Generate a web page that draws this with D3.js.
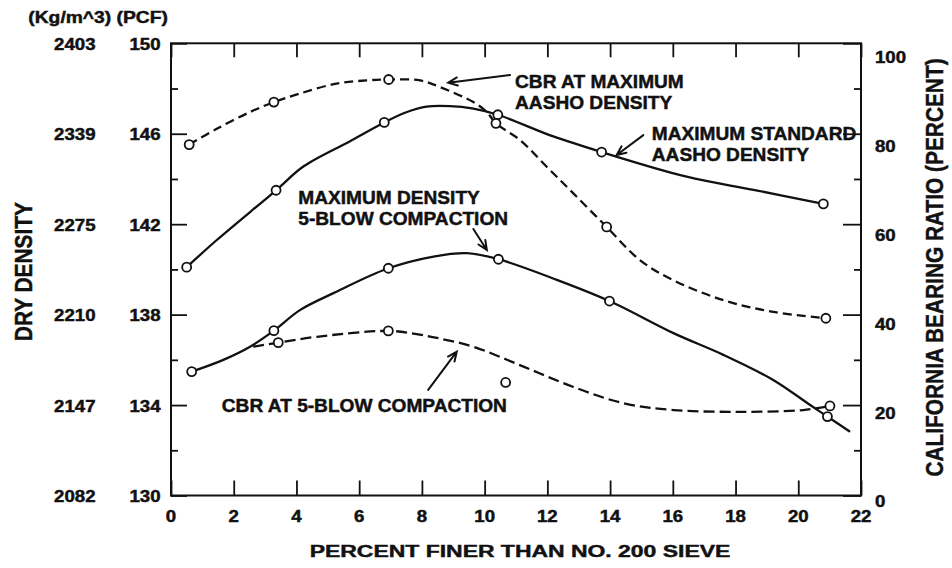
<!DOCTYPE html>
<html>
<head>
<meta charset="utf-8">
<script src="https://cdn.jsdelivr.net/npm/d3@7"></script>
<style>
  html, body { margin: 0; padding: 0; background: #fff; }
  svg { display: block; }
  text {
    font-family: "Liberation Sans", Arial, Helvetica, sans-serif;
    font-weight: bold; fill: #111;
    stroke: #111; stroke-width: 0.45px; paint-order: stroke;
  }
</style>
</head>
<body>
<svg id="chart" width="952" height="568"></svg>
<script>
// ---- Axis ticks and labels ----
const xTicks = [0, 2, 4, 6, 8, 10, 12, 14, 16, 18, 20, 22];
const pcfMajor = [130, 134, 138, 142, 146, 150];
const pcfMinor = [132, 136, 140, 144, 148];
const kgLabels = ["2082", "2147", "2210", "2275", "2339", "2403"];
const cbrMajor = [0, 20, 40, 60, 80, 100];
const cbrMinor = [10, 30, 50, 70, 90];

// ---- Maximum standard AASHO density (PCF) ----
const stdPointX = [0.5, 3.35, 6.8, 10.42, 13.73, 20.8];
const stdPointY = [140.1, 143.5, 146.5, 146.84, 145.19, 142.9];
const stdCurveX = [0.5, 1.46, 3.35, 4.22, 5.71, 6.8, 7.5, 8.15, 8.9, 9.6, 10.42, 12.19, 13.73, 16.44, 18.57, 20.8];
const stdCurveY = [140.1, 141.3, 143.5, 144.55, 145.67, 146.5, 146.95, 147.2, 147.22, 147.12, 146.84, 145.88, 145.19, 144.1, 143.52, 142.9];

// ---- CBR at maximum AASHO density (percent) ----
const cbrStdPointX = [0.58, 3.28, 6.94, 10.36, 13.89, 20.88];
const cbrStdPointY = [77.6, 87.0, 92.0, 82.3, 59.4, 39.2];
const cbrStdCurveX = [0.58, 1.46, 2.52, 3.28, 4.11, 5.28, 6.24, 6.94, 7.94, 8.58, 9.64, 10.07, 10.36, 11.13, 11.98, 12.83, 13.89, 14.96, 16.02, 17.61, 19.2, 20.88];
const cbrStdCurveY = [77.6, 81.1, 84.8, 87.0, 88.9, 91.1, 91.8, 92.0, 91.8, 90.3, 87.0, 84.8, 82.3, 78.6, 72.7, 66.8, 59.4, 52.0, 47.6, 43.2, 40.6, 39.2];

// ---- Maximum density, 5-blow compaction (PCF) ----
const blowPointX = [0.66, 3.28, 6.93, 10.44, 13.98, 20.93];
const blowPointY = [135.48, 137.29, 140.05, 140.45, 138.6, 133.49];
const blowCurveX = [0.66, 1.67, 2.52, 3.28, 4.11, 5.18, 6.93, 8.37, 9.43, 10.44, 12.3, 13.98, 16.02, 17.61, 19.2, 20.38, 20.93, 21.65];
const blowCurveY = [135.48, 136.0, 136.58, 137.29, 138.2, 138.95, 140.05, 140.57, 140.72, 140.45, 139.54, 138.6, 137.18, 136.22, 135.11, 134.0, 133.49, 132.82];

// ---- CBR at 5-blow compaction (percent) ----
const cbrBlowPointX = [3.42, 6.93, 10.67, 21.01];
const cbrBlowPointY = [33.8, 36.4, 25.0, 19.8];
const cbrBlowCurveX = [2.62, 3.42, 4.65, 6.93, 7.83, 8.58, 9.64, 11.24, 12.83, 14.43, 16.02, 18.14, 20.16, 21.01];
const cbrBlowCurveY = [32.9, 33.8, 35.1, 36.4, 35.7, 34.7, 32.9, 28.5, 24.0, 20.4, 18.9, 18.5, 18.9, 19.8];

// ---- Callouts: text anchor and arrow (tail -> head), in x / PCF units ----
const callouts = [
  { lines: ["CBR AT MAXIMUM", "AASHO DENSITY"], at: [10.97, 148.04], tail: [10.81, 148.60], head: [8.84, 148.26] },
  { lines: ["MAXIMUM STANDARD", "AASHO DENSITY"], at: [15.33, 145.72], tail: [15.06, 145.94], head: [14.21, 145.06] },
  { lines: ["MAXIMUM DENSITY", "5-BLOW COMPACTION"], at: [4.06, 142.89], tail: [9.64, 141.79], head: [10.07, 140.86] },
  { lines: ["CBR AT 5-BLOW COMPACTION"], at: [1.62, 133.71], tail: [8.20, 134.67], head: [9.11, 136.36] }
];

// ---- Layout ----
const plotLeft = 171, plotRight = 861, plotTop = 43.3, plotBottom = 495.5;
const svg = d3.select("#chart");

const x = d3.scaleLinear().domain([0, 22]).range([plotLeft, plotRight]);
const yPcf = d3.scaleLinear().domain([130, 150]).range([plotBottom, plotTop]);
const yCbr = d3.scaleLinear().domain([0, 100]).range([plotBottom, plotTop]);
// right-hand labels sit on a slightly tighter spacing than their ticks
const yCbrLabel = d3.scaleLinear().domain([0, 100]).range([501.7, 57.5]);

const ink = "#111";
const CAP = 0.716;

// text with a horizontal stretch along its own direction
function label(g, str, px, py, size, sx, anchor, rot) {
  return g.append("text")
    .attr("transform", `translate(${px},${py})` + (rot ? ` rotate(${rot})` : "") + ` scale(${sx},1)`)
    .attr("font-size", size)
    .attr("text-anchor", anchor || "start")
    .text(str);
}

// ---- Frame ----
svg.append("rect")
  .attr("x", plotLeft).attr("y", plotTop)
  .attr("width", plotRight - plotLeft).attr("height", plotBottom - plotTop)
  .attr("fill", "none").attr("stroke", ink).attr("stroke-width", 2);

// ---- Ticks (inward) ----
const gAxis = svg.append("g");
const bottomAxis = d3.axisBottom(x).tickValues(xTicks).tickSize(-15).tickFormat("");
const topAxis = d3.axisTop(x).tickValues(xTicks).tickSize(-14).tickFormat("");
const leftMajor = d3.axisLeft(yPcf).tickValues(pcfMajor).tickSize(-16).tickFormat("");
const leftMinor = d3.axisLeft(yPcf).tickValues(pcfMinor).tickSize(-7).tickFormat("");
const rightMajor = d3.axisRight(yCbr).tickValues(cbrMajor).tickSize(-18).tickFormat("");
const rightMinor = d3.axisRight(yCbr).tickValues(cbrMinor).tickSize(-7).tickFormat("");

[[bottomAxis, `translate(0,${plotBottom})`], [topAxis, `translate(0,${plotTop})`],
 [leftMajor, `translate(${plotLeft},0)`], [leftMinor, `translate(${plotLeft},0)`],
 [rightMajor, `translate(${plotRight},0)`], [rightMinor, `translate(${plotRight},0)`]]
  .forEach(([ax, tr]) => {
    const g = gAxis.append("g").attr("transform", tr).call(ax);
    g.select(".domain").remove();
    g.selectAll("line").attr("stroke", ink).attr("stroke-width", 1.8);
  });

// ---- Tick labels ----
const tickSize = 15.8, tickSx = 1.18;
const gLab = svg.append("g");
xTicks.forEach(v => label(gLab, String(v), x(v), 521.7, tickSize, tickSx, "middle"));
pcfMajor.forEach((v, i) => {
  const cy = yPcf(v) + 1 + tickSize * CAP / 2;
  label(gLab, String(v), 160.5, cy, tickSize, tickSx, "end");
  label(gLab, kgLabels[i], 95.5, cy, tickSize, tickSx, "end");
});
cbrMajor.forEach(v => label(gLab, String(v), 875, yCbrLabel(v) + tickSize * CAP / 2, tickSize, tickSx, "start"));

// units header
label(gLab, "(Kg/m^3) (PCF)", 28.3, 23.3, tickSize, 1.22, "start");

// ---- Axis titles ----
label(gLab, "PERCENT FINER THAN NO. 200 SIEVE", 520, 557.3, 17.2, 1.335, "middle");
label(gLab, "DRY DENSITY", 31.7, 271.6, 23.3, 0.895, "middle", -90);
label(gLab, "CALIFORNIA BEARING RATIO (PERCENT)", 943.3, 267.5, 23.3, 0.895, "middle", -90);

// ---- Curves ----
const zip = (xs, ys) => xs.map((v, i) => [v, ys[i]]);
const lineFor = ys => d3.line().x(d => x(d[0])).y(d => ys(d[1])).curve(d3.curveCatmullRom.alpha(0.5));

const series = [
  { curve: zip(stdCurveX, stdCurveY), pts: zip(stdPointX, stdPointY), scale: yPcf, dash: null },
  { curve: zip(cbrStdCurveX, cbrStdCurveY), pts: zip(cbrStdPointX, cbrStdPointY), scale: yCbr, dash: "9,5" },
  { curve: zip(blowCurveX, blowCurveY), pts: zip(blowPointX, blowPointY), scale: yPcf, dash: null },
  { curve: zip(cbrBlowCurveX, cbrBlowCurveY), pts: zip(cbrBlowPointX, cbrBlowPointY), scale: yCbr, dash: "11,5" }
];

const gLines = svg.append("g");
series.forEach(s => {
  gLines.append("path")
    .attr("d", lineFor(s.scale)(s.curve))
    .attr("fill", "none")
    .attr("stroke", ink)
    .attr("stroke-width", 2.3)
    .attr("stroke-linejoin", "round")
    .attr("stroke-dasharray", s.dash);
});
series.forEach(s => {
  gLines.selectAll(null).data(s.pts).join("circle")
    .attr("cx", d => x(d[0]))
    .attr("cy", d => s.scale(d[1]))
    .attr("r", 4.5)
    .attr("fill", "#fff")
    .attr("stroke", ink)
    .attr("stroke-width", 1.8);
});

// ---- Callouts ----
const gNote = svg.append("g");
callouts.forEach(c => {
  const tx = x(c.at[0]), ty = yPcf(c.at[1]);
  c.lines.forEach((ln, i) => label(gNote, ln, tx, ty + i * 21, 17.7, 1.08, "start"));
  const x1 = x(c.tail[0]), y1 = yPcf(c.tail[1]);
  const x2 = x(c.head[0]), y2 = yPcf(c.head[1]);
  const ang = Math.atan2(y1 - y2, x1 - x2);
  const len = 10, spread = 0.42;
  const a1 = [x2 + len * Math.cos(ang + spread), y2 + len * Math.sin(ang + spread)];
  const a2 = [x2 + len * Math.cos(ang - spread), y2 + len * Math.sin(ang - spread)];
  gNote.append("path")
    .attr("d", `M${x1},${y1}L${x2},${y2}M${a1[0]},${a1[1]}L${x2},${y2}L${a2[0]},${a2[1]}`)
    .attr("fill", "none")
    .attr("stroke", ink)
    .attr("stroke-width", 2)
    .attr("stroke-linecap", "round");
});
</script>
</body>
</html>
